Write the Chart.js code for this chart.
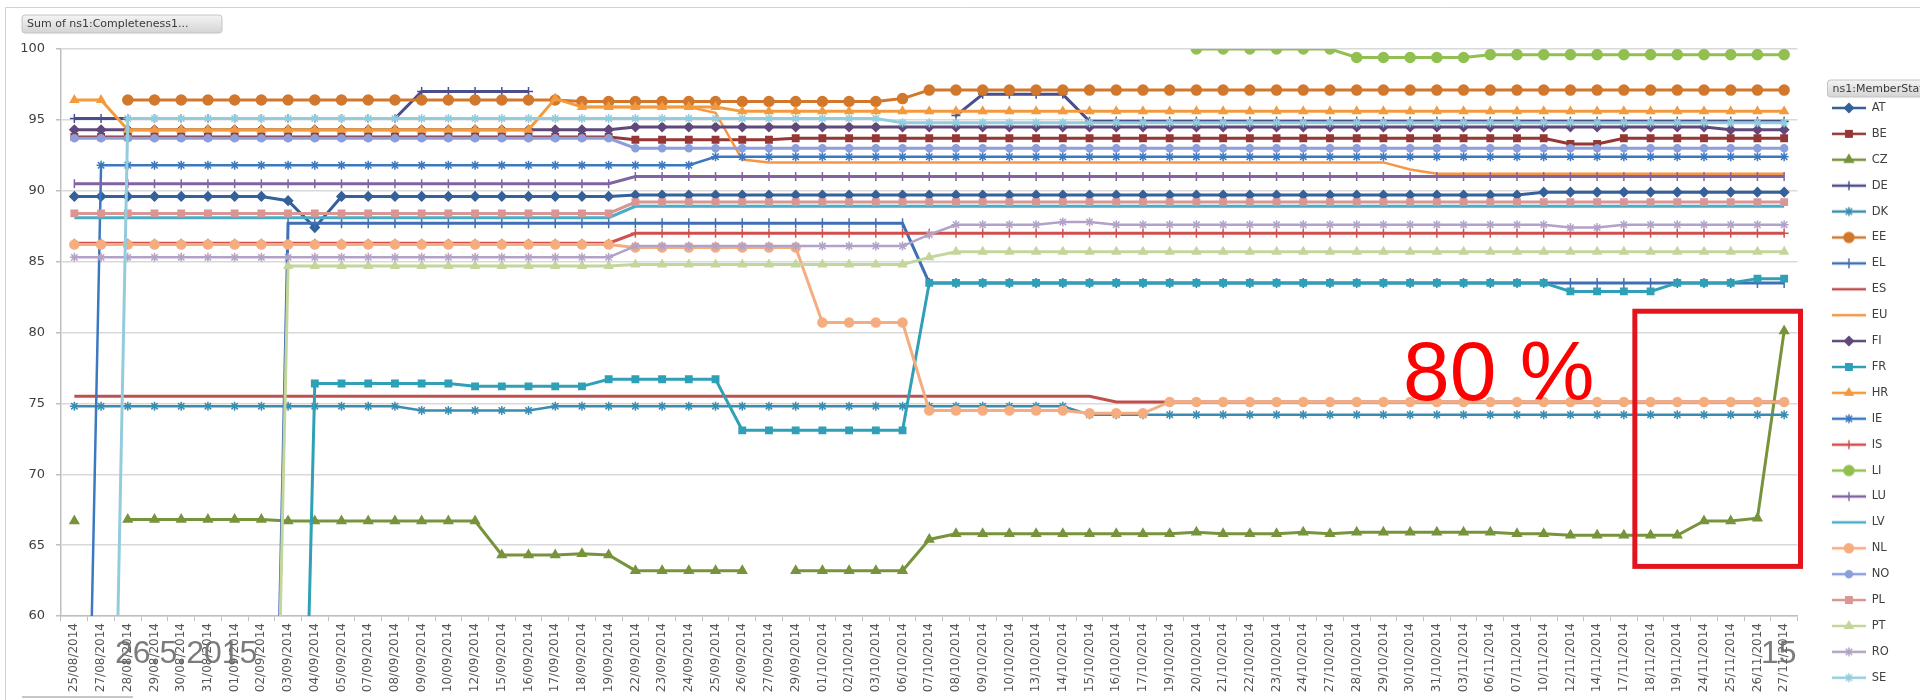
<!DOCTYPE html>
<html>
<head>
<meta charset="utf-8">
<script src="https://cdn.jsdelivr.net/npm/chart.js@4.4.1/dist/chart.umd.min.js"></script>
<style>
  html, body { margin: 0; padding: 0; background: #fff; }
  #wrap { width: 1920px; height: 700px; }
</style>
</head>
<body>
<div id="wrap"><canvas id="chart" width="1920" height="700"></canvas></div>
<script>
// categories (snapshot dates)
const labels = [
  '25/08/2014','27/08/2014','28/08/2014','29/08/2014','30/08/2014','31/08/2014','01/09/2014','02/09/2014','03/09/2014','04/09/2014',
  '05/09/2014','07/09/2014','08/09/2014','09/09/2014','10/09/2014','12/09/2014','15/09/2014','16/09/2014','17/09/2014','18/09/2014',
  '19/09/2014','22/09/2014','23/09/2014','24/09/2014','25/09/2014','26/09/2014','27/09/2014','29/09/2014','01/10/2014','02/10/2014',
  '03/10/2014','06/10/2014','07/10/2014','08/10/2014','09/10/2014','10/10/2014','13/10/2014','14/10/2014','15/10/2014','16/10/2014',
  '17/10/2014','19/10/2014','20/10/2014','21/10/2014','22/10/2014','23/10/2014','24/10/2014','27/10/2014','28/10/2014','29/10/2014',
  '30/10/2014','31/10/2014','03/11/2014','06/11/2014','07/11/2014','10/11/2014','12/11/2014','14/11/2014','17/11/2014','18/11/2014',
  '19/11/2014','24/11/2014','25/11/2014','26/11/2014','27/11/2014'
];

const yTicks = [60, 65, 70, 75, 80, 85, 90, 95, 100];

// completeness per member state
const AT = [
  89.6,89.6,89.6,89.6,89.6,89.6,89.6,89.6,89.3,87.4,
  89.6,89.6,89.6,89.6,89.6,89.6,89.6,89.6,89.6,89.6,
  89.6,89.7,89.7,89.7,89.7,89.7,89.7,89.7,89.7,89.7,
  89.7,89.7,89.7,89.7,89.7,89.7,89.7,89.7,89.7,89.7,
  89.7,89.7,89.7,89.7,89.7,89.7,89.7,89.7,89.7,89.7,
  89.7,89.7,89.7,89.7,89.7,89.9,89.9,89.9,89.9,89.9,
  89.9,89.9,89.9,89.9,89.9];
const BE = [
  93.8,93.8,93.8,93.8,93.8,93.8,93.8,93.8,93.8,93.8,
  93.8,93.8,93.8,93.8,93.8,93.8,93.8,93.8,93.8,93.8,
  93.8,93.6,93.6,93.6,93.6,93.6,93.6,93.7,93.7,93.7,
  93.7,93.7,93.7,93.7,93.7,93.7,93.7,93.7,93.7,93.7,
  93.7,93.7,93.7,93.7,93.7,93.7,93.7,93.7,93.7,93.7,
  93.7,93.7,93.7,93.7,93.7,93.7,93.3,93.3,93.7,93.7,
  93.7,93.7,93.7,93.7,93.7];
const CZ = [
  66.7,null,66.8,66.8,66.8,66.8,66.8,66.8,66.7,66.7,
  66.7,66.7,66.7,66.7,66.7,66.7,64.3,64.3,64.3,64.4,
  64.3,63.2,63.2,63.2,63.2,63.2,null,63.2,63.2,63.2,
  63.2,63.2,65.4,65.8,65.8,65.8,65.8,65.8,65.8,65.8,
  65.8,65.8,65.9,65.8,65.8,65.8,65.9,65.8,65.9,65.9,
  65.9,65.9,65.9,65.9,65.8,65.8,65.7,65.7,65.7,65.7,
  65.7,66.7,66.7,66.9,80.1];
const DE = [
  95.1,95.1,95.1,95.1,95.1,95.1,95.1,95.1,95.1,95.1,
  95.1,95.1,95.1,97.0,97.0,97.0,97.0,97.0,null,null,
  null,null,null,null,null,null,null,null,null,null,
  null,null,null,95.3,96.8,96.8,96.8,96.8,94.9,94.9,
  94.9,94.9,94.9,94.9,94.9,94.9,94.9,94.9,94.9,94.9,
  94.9,94.9,94.9,94.9,94.9,94.9,94.9,94.9,94.9,94.9,
  94.9,94.9,94.9,94.9,94.9];
const DK = [
  74.8,74.8,74.8,74.8,74.8,74.8,74.8,74.8,74.8,74.8,
  74.8,74.8,74.8,74.5,74.5,74.5,74.5,74.5,74.8,74.8,
  74.8,74.8,74.8,74.8,74.8,74.8,74.8,74.8,74.8,74.8,
  74.8,74.8,74.8,74.8,74.8,74.8,74.8,74.8,74.2,74.2,
  74.2,74.2,74.2,74.2,74.2,74.2,74.2,74.2,74.2,74.2,
  74.2,74.2,74.2,74.2,74.2,74.2,74.2,74.2,74.2,74.2,
  74.2,74.2,74.2,74.2,74.2];
const EE = [
  null,null,96.4,96.4,96.4,96.4,96.4,96.4,96.4,96.4,
  96.4,96.4,96.4,96.4,96.4,96.4,96.4,96.4,96.4,96.3,
  96.3,96.3,96.3,96.3,96.3,96.3,96.3,96.3,96.3,96.3,
  96.3,96.5,97.1,97.1,97.1,97.1,97.1,97.1,97.1,97.1,
  97.1,97.1,97.1,97.1,97.1,97.1,97.1,97.1,97.1,97.1,
  97.1,97.1,97.1,97.1,97.1,97.1,97.1,97.1,97.1,97.1,
  97.1,97.1,97.1,97.1,97.1];
const EL = [
  null,null,null,null,null,null,null,0,87.7,87.7,
  87.7,87.7,87.7,87.7,87.7,87.7,87.7,87.7,87.7,87.7,
  87.7,87.7,87.7,87.7,87.7,87.7,87.7,87.7,87.7,87.7,
  87.7,87.7,83.5,83.5,83.5,83.5,83.5,83.5,83.5,83.5,
  83.5,83.5,83.5,83.5,83.5,83.5,83.5,83.5,83.5,83.5,
  83.5,83.5,83.5,83.5,83.5,83.5,83.5,83.5,83.5,83.5,
  83.5,83.5,83.5,83.5,83.5];
const ES = [
  75.5,75.5,75.5,75.5,75.5,75.5,75.5,75.5,75.5,75.5,
  75.5,75.5,75.5,75.5,75.5,75.5,75.5,75.5,75.5,75.5,
  75.5,75.5,75.5,75.5,75.5,75.5,75.5,75.5,75.5,75.5,
  75.5,75.5,75.5,75.5,75.5,75.5,75.5,75.5,75.5,75.1,
  75.1,75.1,75.1,75.1,75.1,75.1,75.1,75.1,75.1,75.1,
  75.1,75.1,75.1,75.1,75.1,75.1,75.1,75.1,75.1,75.1,
  75.1,75.1,75.1,75.1,75.1];
const EU = [
  null,null,null,null,null,null,null,null,null,null,
  null,null,null,null,null,null,null,null,null,95.9,
  95.9,95.9,95.9,95.9,95.5,92.2,92.0,92.0,92.0,92.0,
  92.0,92.0,92.0,92.0,92.0,92.0,92.0,92.0,92.0,92.0,
  92.0,92.0,92.0,92.0,92.0,92.0,92.0,92.0,92.0,92.0,
  91.5,91.2,91.2,91.2,91.2,91.2,91.2,91.2,91.2,91.2,
  91.2,91.2,91.2,91.2,91.2];
const FI = [
  94.3,94.3,94.3,94.3,94.3,94.3,94.3,94.3,94.3,94.3,
  94.3,94.3,94.3,94.3,94.3,94.3,94.3,94.3,94.3,94.3,
  94.3,94.5,94.5,94.5,94.5,94.5,94.5,94.5,94.5,94.5,
  94.5,94.5,94.5,94.5,94.5,94.5,94.5,94.5,94.5,94.5,
  94.5,94.5,94.5,94.5,94.5,94.5,94.5,94.5,94.5,94.5,
  94.5,94.5,94.5,94.5,94.5,94.5,94.5,94.5,94.5,94.5,
  94.5,94.5,94.3,94.3,94.3];
const FR = [
  null,null,null,null,null,null,null,null,0,76.4,
  76.4,76.4,76.4,76.4,76.4,76.2,76.2,76.2,76.2,76.2,
  76.7,76.7,76.7,76.7,76.7,73.1,73.1,73.1,73.1,73.1,
  73.1,73.1,83.5,83.5,83.5,83.5,83.5,83.5,83.5,83.5,
  83.5,83.5,83.5,83.5,83.5,83.5,83.5,83.5,83.5,83.5,
  83.5,83.5,83.5,83.5,83.5,83.5,82.9,82.9,82.9,82.9,
  83.5,83.5,83.5,83.8,83.8];
const HR = [
  96.4,96.4,94.3,94.3,94.3,94.3,94.3,94.3,94.3,94.3,
  94.3,94.3,94.3,94.3,94.3,94.3,94.3,94.3,96.5,95.9,
  95.9,95.9,95.9,95.9,95.9,95.6,95.6,95.6,95.6,95.6,
  95.6,95.6,95.6,95.6,95.6,95.6,95.6,95.6,95.6,95.6,
  95.6,95.6,95.6,95.6,95.6,95.6,95.6,95.6,95.6,95.6,
  95.6,95.6,95.6,95.6,95.6,95.6,95.6,95.6,95.6,95.6,
  95.6,95.6,95.6,95.6,95.6];
const IE = [
  0,91.8,91.8,91.8,91.8,91.8,91.8,91.8,91.8,91.8,
  91.8,91.8,91.8,91.8,91.8,91.8,91.8,91.8,91.8,91.8,
  91.8,91.8,91.8,91.8,92.4,92.4,92.4,92.4,92.4,92.4,
  92.4,92.4,92.4,92.4,92.4,92.4,92.4,92.4,92.4,92.4,
  92.4,92.4,92.4,92.4,92.4,92.4,92.4,92.4,92.4,92.4,
  92.4,92.4,92.4,92.4,92.4,92.4,92.4,92.4,92.4,92.4,
  92.4,92.4,92.4,92.4,92.4];
const IS = [
  86.3,86.3,86.3,86.3,86.3,86.3,86.3,86.3,86.3,86.3,
  86.3,86.3,86.3,86.3,86.3,86.3,86.3,86.3,86.3,86.3,
  86.3,87.0,87.0,87.0,87.0,87.0,87.0,87.0,87.0,87.0,
  87.0,87.0,87.0,87.0,87.0,87.0,87.0,87.0,87.0,87.0,
  87.0,87.0,87.0,87.0,87.0,87.0,87.0,87.0,87.0,87.0,
  87.0,87.0,87.0,87.0,87.0,87.0,87.0,87.0,87.0,87.0,
  87.0,87.0,87.0,87.0,87.0];
const LI = [
  null,null,null,null,null,null,null,null,null,null,
  null,null,null,null,null,null,null,null,null,null,
  null,null,null,null,null,null,null,null,null,null,
  null,null,null,null,null,null,null,null,null,null,
  null,null,100,100,100,100,100,100,99.4,99.4,
  99.4,99.4,99.4,99.6,99.6,99.6,99.6,99.6,99.6,99.6,
  99.6,99.6,99.6,99.6,99.6];
const LU = [
  90.5,90.5,90.5,90.5,90.5,90.5,90.5,90.5,90.5,90.5,
  90.5,90.5,90.5,90.5,90.5,90.5,90.5,90.5,90.5,90.5,
  90.5,91.0,91.0,91.0,91.0,91.0,91.0,91.0,91.0,91.0,
  91.0,91.0,91.0,91.0,91.0,91.0,91.0,91.0,91.0,91.0,
  91.0,91.0,91.0,91.0,91.0,91.0,91.0,91.0,91.0,91.0,
  91.0,91.0,91.0,91.0,91.0,91.0,91.0,91.0,91.0,91.0,
  91.0,91.0,91.0,91.0,91.0];
const LV = [
  88.1,88.1,88.1,88.1,88.1,88.1,88.1,88.1,88.1,88.1,
  88.1,88.1,88.1,88.1,88.1,88.1,88.1,88.1,88.1,88.1,
  88.1,88.9,88.9,88.9,88.9,88.9,88.9,88.9,88.9,88.9,
  88.9,88.9,88.9,88.9,88.9,88.9,88.9,88.9,88.9,88.9,
  88.9,88.9,88.9,88.9,88.9,88.9,88.9,88.9,88.9,88.9,
  88.9,88.9,88.9,88.9,88.9,88.9,88.9,88.9,88.9,88.9,
  88.9,88.9,88.9,88.9,88.9];
const NL = [
  86.2,86.2,86.2,86.2,86.2,86.2,86.2,86.2,86.2,86.2,
  86.2,86.2,86.2,86.2,86.2,86.2,86.2,86.2,86.2,86.2,
  86.2,86.0,86.0,86.0,86.0,86.0,86.0,86.0,80.7,80.7,
  80.7,80.7,74.5,74.5,74.5,74.5,74.5,74.5,74.3,74.3,
  74.3,75.1,75.1,75.1,75.1,75.1,75.1,75.1,75.1,75.1,
  75.1,75.1,75.1,75.1,75.1,75.1,75.1,75.1,75.1,75.1,
  75.1,75.1,75.1,75.1,75.1];
const NO = [
  93.7,93.7,93.7,93.7,93.7,93.7,93.7,93.7,93.7,93.7,
  93.7,93.7,93.7,93.7,93.7,93.7,93.7,93.7,93.7,93.7,
  93.7,93.0,93.0,93.0,93.0,93.0,93.0,93.0,93.0,93.0,
  93.0,93.0,93.0,93.0,93.0,93.0,93.0,93.0,93.0,93.0,
  93.0,93.0,93.0,93.0,93.0,93.0,93.0,93.0,93.0,93.0,
  93.0,93.0,93.0,93.0,93.0,93.0,93.0,93.0,93.0,93.0,
  93.0,93.0,93.0,93.0,93.0];
const PL = [
  88.4,88.4,88.4,88.4,88.4,88.4,88.4,88.4,88.4,88.4,
  88.4,88.4,88.4,88.4,88.4,88.4,88.4,88.4,88.4,88.4,
  88.4,89.2,89.2,89.2,89.2,89.2,89.2,89.2,89.2,89.2,
  89.2,89.2,89.2,89.2,89.2,89.2,89.2,89.2,89.2,89.2,
  89.2,89.2,89.2,89.2,89.2,89.2,89.2,89.2,89.2,89.2,
  89.2,89.2,89.2,89.2,89.2,89.2,89.2,89.2,89.2,89.2,
  89.2,89.2,89.2,89.2,89.2];
const PT = [
  null,null,null,null,null,null,null,0,84.7,84.7,
  84.7,84.7,84.7,84.7,84.7,84.7,84.7,84.7,84.7,84.7,
  84.7,84.8,84.8,84.8,84.8,84.8,84.8,84.8,84.8,84.8,
  84.8,84.8,85.3,85.7,85.7,85.7,85.7,85.7,85.7,85.7,
  85.7,85.7,85.7,85.7,85.7,85.7,85.7,85.7,85.7,85.7,
  85.7,85.7,85.7,85.7,85.7,85.7,85.7,85.7,85.7,85.7,
  85.7,85.7,85.7,85.7,85.7];
const RO = [
  85.3,85.3,85.3,85.3,85.3,85.3,85.3,85.3,85.3,85.3,
  85.3,85.3,85.3,85.3,85.3,85.3,85.3,85.3,85.3,85.3,
  85.3,86.1,86.1,86.1,86.1,86.1,86.1,86.1,86.1,86.1,
  86.1,86.1,86.9,87.6,87.6,87.6,87.6,87.8,87.8,87.6,
  87.6,87.6,87.6,87.6,87.6,87.6,87.6,87.6,87.6,87.6,
  87.6,87.6,87.6,87.6,87.6,87.6,87.4,87.4,87.6,87.6,
  87.6,87.6,87.6,87.6,87.6];
const SE = [
  null,0,95.1,95.1,95.1,95.1,95.1,95.1,95.1,95.1,
  95.1,95.1,95.1,95.1,95.1,95.1,95.1,95.1,95.1,95.1,
  95.1,95.1,95.1,95.1,95.1,95.1,95.1,95.1,95.1,95.1,
  95.1,94.8,94.8,94.8,94.8,94.8,94.8,94.8,94.8,94.8,
  94.8,94.8,94.8,94.8,94.8,94.8,94.8,94.8,94.8,94.8,
  94.8,94.8,94.8,94.8,94.8,94.8,94.8,94.8,94.8,94.8,
  94.8,94.8,94.8,94.8,94.8];

const seriesData = { AT, BE, CZ, DE, DK, EE, EL, ES, EU, FI, FR, HR, IE, IS, LI, LU, LV, NL, NO, PL, PT, RO, SE };

// look of each series: colour, marker, marker radius, line width
const looks = {
  AT: ['#35609A', 'rectRot', 4.5, 3],
  BE: ['#953735', 'rect', 4.5, 3],
  CZ: ['#77933C', 'triangle', 5, 3],
  DE: ['#4A4E8C', 'cross', 4.5, 3],
  DK: ['#3A8DB0', 'star', 4.5, 2.5],
  EE: ['#D2782C', 'circle', 5, 3],
  EL: ['#3F6FB5', 'line', 5, 3],
  ES: ['#C0504D', null, 0, 3],
  EU: ['#F79646', null, 0, 2.5],
  FI: ['#60497A', 'rectRot', 4.5, 3],
  FR: ['#2FA0B5', 'rect', 4.5, 3],
  HR: ['#F39A3E', 'triangle', 4.5, 3],
  IE: ['#3B78C0', 'star', 4.5, 2.5],
  IS: ['#D0504D', 'cross', 4.5, 3],
  LI: ['#92C050', 'circle', 5, 3],
  LU: ['#8064A2', 'line', 4.5, 3],
  LV: ['#4BACC6', null, 0, 3],
  NL: ['#F5AD80', 'circle', 4.5, 3],
  NO: ['#8C9FDB', 'circle', 3.5, 3],
  PL: ['#D99694', 'rect', 4.5, 3],
  PT: ['#C3D69B', 'triangle', 4.5, 3],
  RO: ['#B3A2C7', 'star', 4.5, 2.5],
  SE: ['#93CDDD', 'star', 4.5, 3]
};

Object.entries(seriesData).forEach(([k, v]) => {
  if (v.length !== labels.length) throw new Error('bad length for ' + k + ': ' + v.length);
});

Chart.defaults.font.family = "'DejaVu Sans', Verdana, sans-serif";

const datasets = Object.keys(seriesData).map((name, i) => {
  const [color, marker, radius, width] = looks[name];
  return {
    label: name,
    data: seriesData[name],
    borderColor: color,
    backgroundColor: color,
    borderWidth: width,
    pointStyle: marker || 'circle',
    pointRadius: marker ? radius : 0,
    pointHoverRadius: marker ? radius : 0,
    pointRotation: marker === 'line' ? 90 : 0,
    pointBackgroundColor: color,
    pointBorderColor: color,
    pointBorderWidth: 1.5,
    tension: 0,
    spanGaps: false,
    order: -i
  };
});

const iconCache = {};
function legendIcon(ds) {
  if (iconCache[ds.label]) return iconCache[ds.label];
  const c = document.createElement('canvas');
  c.width = 34; c.height = 14;
  const g = c.getContext('2d');
  g.strokeStyle = ds.borderColor;
  g.lineWidth = 2.5;
  g.beginPath(); g.moveTo(0, 7); g.lineTo(34, 7); g.stroke();
  if (ds.pointRadius > 0) {
    g.fillStyle = ds.pointBackgroundColor;
    g.strokeStyle = ds.pointBorderColor;
    g.lineWidth = 1.5;
    if (Chart.helpers && Chart.helpers.drawPoint) {
      Chart.helpers.drawPoint(g, { pointStyle: ds.pointStyle, radius: ds.pointRadius, rotation: ds.pointRotation, borderWidth: 1.5 }, 17, 7);
    } else {
      g.beginPath(); g.arc(17, 7, ds.pointRadius, 0, Math.PI * 2); g.fill();
    }
  }
  iconCache[ds.label] = c;
  return c;
}

function button(ctx, x, y, w, h, text) {
  const r = 3;
  const grad = ctx.createLinearGradient(0, y, 0, y + h);
  grad.addColorStop(0, '#F4F4F4');
  grad.addColorStop(1, '#D4D4D4');
  ctx.beginPath();
  ctx.moveTo(x + r, y);
  ctx.lineTo(x + w - r, y); ctx.quadraticCurveTo(x + w, y, x + w, y + r);
  ctx.lineTo(x + w, y + h - r); ctx.quadraticCurveTo(x + w, y + h, x + w - r, y + h);
  ctx.lineTo(x + r, y + h); ctx.quadraticCurveTo(x, y + h, x, y + h - r);
  ctx.lineTo(x, y + r); ctx.quadraticCurveTo(x, y, x + r, y);
  ctx.closePath();
  ctx.fillStyle = grad; ctx.fill();
  ctx.strokeStyle = '#C4C4C4'; ctx.lineWidth = 1; ctx.stroke();
  ctx.fillStyle = '#3A3A3A';
  ctx.font = "11px 'DejaVu Sans'";
  ctx.textBaseline = 'middle';
  ctx.textAlign = 'left';
  ctx.fillText(text, x + 5, y + h / 2 + 0.5);
}

const decor = {
  id: 'decor',
  beforeDraw(chart) {
    const ctx = chart.ctx;
    ctx.save();
    ctx.fillStyle = '#fff';
    ctx.fillRect(0, 0, chart.width, chart.height);
    ctx.strokeStyle = '#D2D2D2'; ctx.lineWidth = 1;
    ctx.beginPath(); ctx.moveTo(5.5, 700); ctx.lineTo(5.5, 7.5); ctx.lineTo(1920, 7.5); ctx.stroke();
    ctx.strokeStyle = '#C8C8C8'; ctx.lineWidth = 2;
    ctx.beginPath(); ctx.moveTo(22, 697); ctx.lineTo(133, 697); ctx.stroke();
    button(ctx, 22, 15, 200, 18, 'Sum of ns1:Completeness1...');
    const lg = chart.legend;
    button(ctx, lg.left + 10, 80, 120, 17, 'ns1:MemberState');
    ctx.restore();
  },
  afterDraw(chart) {
    const ctx = chart.ctx;
    const x = chart.scales.x, y = chart.scales.y;
    ctx.save();
    // highlight box around the last weeks
    ctx.strokeStyle = '#E3141E'; ctx.lineWidth = 5;
    const bx0 = x.getPixelForValue(58) + 11, bx1 = chart.chartArea.right + 3;
    ctx.strokeRect(bx0, y.getPixelForValue(81.5), bx1 - bx0, y.getPixelForValue(63.5) - y.getPixelForValue(81.5));
    ctx.fillStyle = '#FF0000';
    ctx.font = "84px 'Liberation Sans', Arial, sans-serif";
    ctx.textBaseline = 'alphabetic'; ctx.textAlign = 'left';
    ctx.fillText('80 %', 1403, 400);
    ctx.fillStyle = 'rgba(110,110,110,0.9)';
    ctx.font = "32px 'Liberation Sans', Arial, sans-serif";
    ctx.fillText('26.5.2015', 115, 663);
    ctx.fillText('15', 1761, 663);
    ctx.restore();
  }
};

new Chart(document.getElementById('chart'), {
  type: 'line',
  data: { labels, datasets },
  plugins: [decor],
  options: {
    responsive: false,
    animation: false,
    devicePixelRatio: 1,
    layout: { padding: { top: 49, left: 0, right: 24.5, bottom: 0 } },
    plugins: {
      tooltip: { enabled: false },
      legend: {
        position: 'right',
        align: 'start',
        maxWidth: 78,
        title: { display: true, text: '', padding: { top: 25.6, bottom: 0 }, font: { size: 11 } },
        labels: {
          usePointStyle: true,
          pointStyleWidth: 34,
          padding: 14.4,
          color: '#404040',
          font: { size: 11.5 },
          generateLabels(chart) {
            return chart.data.datasets.map((ds, i) => ({
              text: ds.label,
              datasetIndex: i,
              hidden: false,
              pointStyle: legendIcon(ds),
              rotation: 0,
              fillStyle: ds.borderColor,
              strokeStyle: ds.borderColor,
              lineWidth: 0,
              fontColor: '#404040'
            }));
          }
        }
      }
    },
    scales: {
      x: {
        type: 'category',
        offset: true,
        grid: { display: true, drawOnChartArea: false, drawTicks: true, tickLength: 5, color: '#BFBFBF', offset: true },
        border: { color: '#BFBFBF', width: 1.5 },
        ticks: { autoSkip: false, minRotation: 90, maxRotation: 90, padding: 2, color: '#555', font: { size: 12 } },
        afterFit(s) { s.height = 84; }
      },
      y: {
        min: yTicks[0],
        max: yTicks[yTicks.length - 1],
        afterBuildTicks(s) { s.ticks = yTicks.map(v => ({ value: v })); },
        ticks: { padding: 11, color: '#404040', font: { size: 13 } },
        grid: { color: '#D9D9D9', lineWidth: 1.5, tickLength: 5, tickColor: '#BFBFBF' },
        border: { color: '#BFBFBF', width: 1.5 },
        afterFit(s) { s.width = 61; }
      },
      y2: {
        position: 'right',
        min: 0, max: 1,
        ticks: { display: false },
        grid: { display: false, drawTicks: false },
        border: { display: false },
        afterFit(s) { s.width = 20; }
      }
    }
  }
});
</script>
</body>
</html>
